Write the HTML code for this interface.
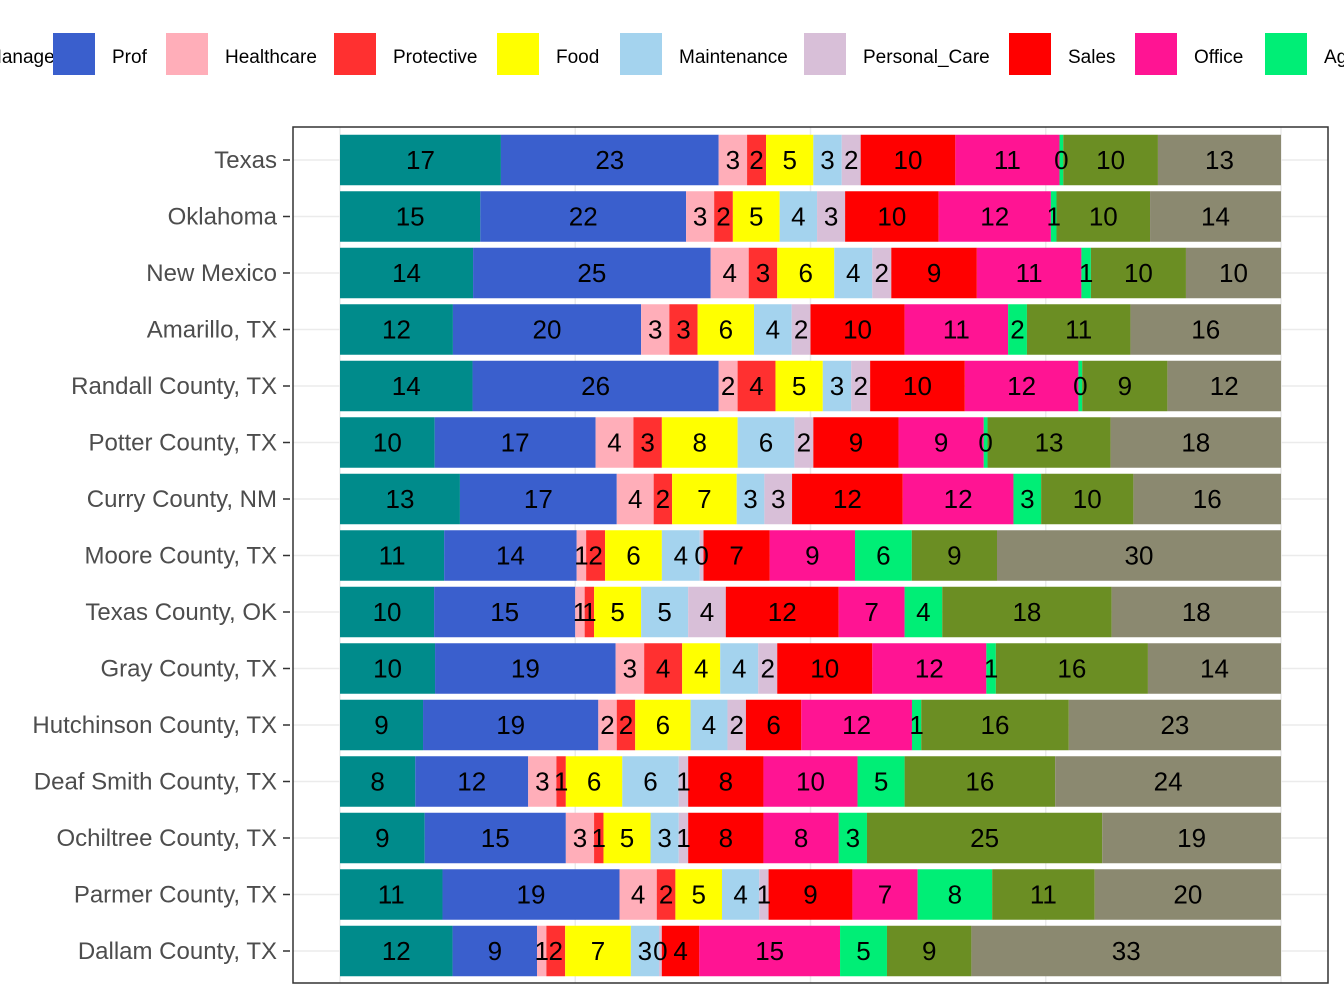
<!DOCTYPE html>
<html><head><meta charset="utf-8"><style>
body{margin:0;background:#fff;}
svg{display:block;font-family:"Liberation Sans",Arial,sans-serif;}
</style></head><body>
<svg id="chart" width="1344" height="1008" viewBox="0 0 1344 1008" xmlns="http://www.w3.org/2000/svg">
<rect width="1344" height="1008" fill="#fff"/>
<g id="legend"></g>
<g id="grid"></g>
<g id="bars"></g>
<g id="labels"></g>
<rect x="293" y="127" width="1035" height="856" fill="none" stroke="#333" stroke-width="1.5"/>
<g id="yaxis"></g>
</svg>
<script>
const categories=["Managerial","Prof","Healthcare","Protective","Food","Maintenance","Personal_Care","Sales","Office","Ag","Farm","Other"];
const colors=["#008B8B","#3A5FCD","#FFAEB9","#FF3030","#FFFF00","#A4D3EE","#D8BFD8","#FF0000","#FF1493","#00EE76","#6B8E23","#8B8970"];
const regions=["Texas","Oklahoma","New Mexico","Amarillo, TX","Randall County, TX","Potter County, TX","Curry County, NM","Moore County, TX","Texas County, OK","Gray County, TX","Hutchinson County, TX","Deaf Smith County, TX","Ochiltree County, TX","Parmer County, TX","Dallam County, TX"];
const vTexas=[17,23,3,2,5,3,2,10,11,0.4,10,13];
const vOklahoma=[15,22,3,2,5,4,3,10,12,0.6,10,14];
const vNewMexico=[14,25,4,3,6,4,2,9,11,1,10,10];
const vAmarillo=[12,20,3,3,6,4,2,10,11,2,11,16];
const vRandall=[14,26,2,4,5,3,2,10,12,0.4,9,12];
const vPotter=[10,17,4,3,8,6,2,9,9,0.4,13,18];
const vCurry=[13,17,4,2,7,3,3,12,12,3,10,16];
const vMoore=[11,14,1,2,6,4,0.4,7,9,6,9,30];
const vTexasCounty=[10,15,1,1,5,5,4,12,7,4,18,18];
const vGray=[10,19,3,4,4,4,2,10,12,1,16,14];
const vHutchinson=[9,19,2,2,6,4,2,6,12,1,16,23];
const vDeafSmith=[8,12,3,1,6,6,1,8,10,5,16,24];
const vOchiltree=[9,15,3,1,5,3,1,8,8,3,25,19];
const vParmer=[11,19,4,2,5,4,1,9,7,8,11,20];
const vDallam=[12,9,1,2,7,3,0.3,4,15,5,9,33];
const values=[vTexas,vOklahoma,vNewMexico,vAmarillo,vRandall,vPotter,vCurry,vMoore,vTexasCounty,vGray,vHutchinson,vDeafSmith,vOchiltree,vParmer,vDallam];
const xTicks=[0,25,50,75,100];

const NS="http://www.w3.org/2000/svg";
function mk(tag,attrs,parent){const e=document.createElementNS(NS,tag);for(const k in attrs)e.setAttribute(k,attrs[k]);parent.appendChild(e);return e;}
const x=v=>340+v*9.41;
const y=i=>160+i*56.5;
const bw=50.5;
const grid=document.getElementById('grid'),bars=document.getElementById('bars'),labels=document.getElementById('labels'),yaxis=document.getElementById('yaxis'),legend=document.getElementById('legend');
xTicks.forEach(t=>{const l=mk('line',{x1:x(t),x2:x(t),y1:127,y2:983,stroke:'#EBEBEB','stroke-width':1.5},grid);

});
regions.forEach((r,i)=>{
 const gl=mk('line',{x1:293,x2:1328,y1:y(i),y2:y(i),stroke:'#EBEBEB','stroke-width':1.5},grid);
 
 
 const vals=values[i];const sum=vals.reduce((a,b)=>a+b,0);let acc=0;
 vals.forEach((v,j)=>{
  const p=v/sum*100;
  const rc=mk('rect',{x:x(acc),y:y(i)-bw/2,width:x(acc+p)-x(acc),height:bw,fill:colors[j]},bars);
  
  
  const tx=mk('text',{x:x(acc+p/2),y:y(i)+9,'text-anchor':'middle','font-size':26,fill:'#000'},labels);
  tx.textContent=Math.round(v);
  
  
  acc+=p;
 });
 const tk=mk('line',{x1:283,x2:290,y1:y(i),y2:y(i),stroke:'#333','stroke-width':1.5},yaxis);
 
 
 const lb=mk('text',{x:277,y:y(i)+8,'text-anchor':'end','font-size':24,fill:'#4D4D4D'},yaxis);
 lb.textContent=r;
 
 
});
const legX=[-73,53,166,334,497,620,804,1009,1135,1265,1420,1560];
categories.forEach((c,j)=>{
 const g=mk('g',{},legend);
 
 
 mk('rect',{x:legX[j],y:33,width:42,height:42,fill:colors[j]},g);
 const t=mk('text',{x:legX[j]+59,y:63,'font-size':19,fill:'#000'},g);
 t.textContent=c;
});
</script>
</body></html>
